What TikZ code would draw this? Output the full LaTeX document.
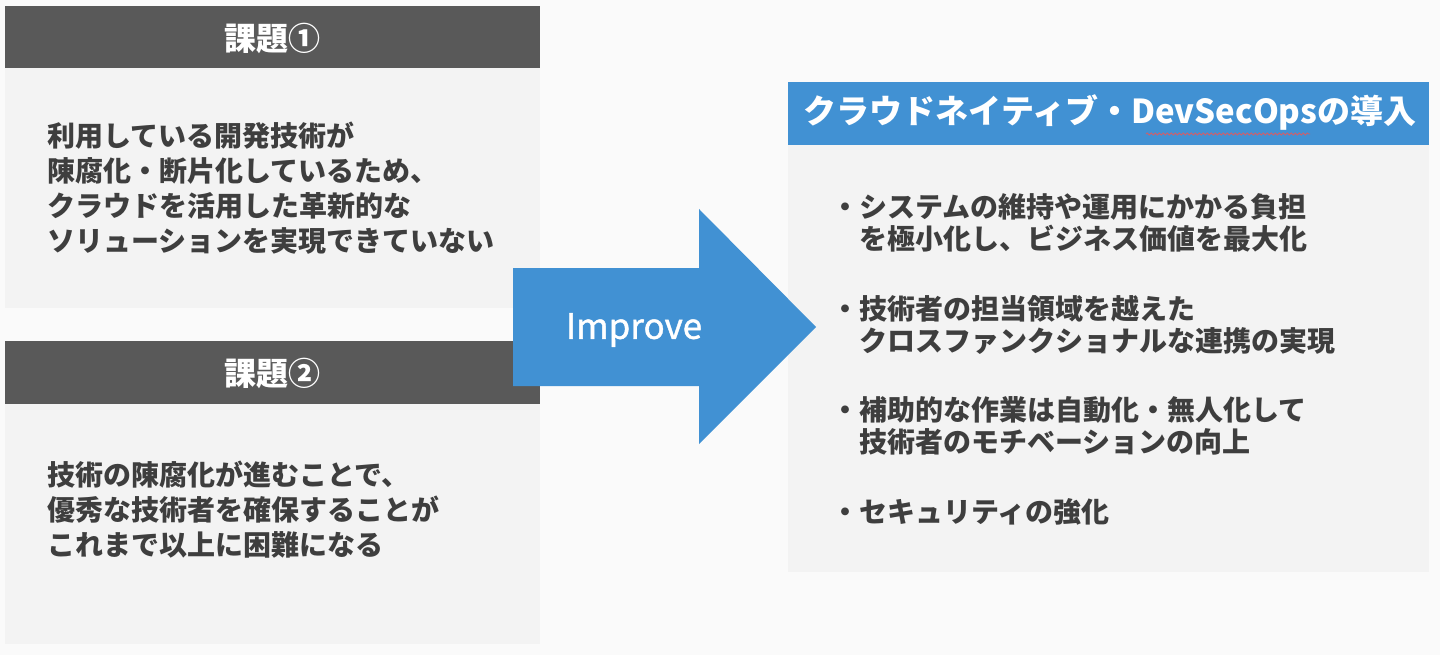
\documentclass[tikz,border=0pt]{standalone}
\usepackage{fontspec}
\setmainfont{Noto Sans CJK JP}
\newfontfamily\impfont[FakeBold=1.2]{Noto Sans CJK JP}
\usetikzlibrary{decorations.pathmorphing}
\definecolor{bg}{HTML}{FAFAFA}
\definecolor{panel}{HTML}{F3F3F3}
\definecolor{hdr}{HTML}{595959}
\definecolor{blueA}{HTML}{4191D3}
\definecolor{txt}{HTML}{3E3E3E}
\definecolor{wavy}{HTML}{D0606A}
\tikzset{
  hdrtext/.style={text=white, font=\fontsize{32}{36}\selectfont\bfseries, inner sep=0pt},
  bodytext/.style={text=txt, font=\fontsize{28}{35}\selectfont\bfseries, align=left, anchor=west, inner sep=0pt},
  bullettext/.style={text=txt, font=\fontsize{28}{32.5}\selectfont\bfseries, align=left, anchor=west, inner sep=0pt},
}
\begin{document}
\begin{tikzpicture}[x=1pt,y=-1pt]
\useasboundingbox (0,0) rectangle (1440,655);
\fill[bg] (0,0) rectangle (1440,655);
% left box 1
\fill[panel] (5,68) rectangle (540,308);
\fill[hdr] (5,6) rectangle (540,68);
\node[hdrtext] (h1) at (272,38) {課題①};
\node[bodytext] (t1) at (47,188) {利用している開発技術が\\陳腐化・断片化しているため、\\クラウドを活用した革新的な\\ソリューションを実現できていない};
% left box 2
\fill[panel] (5,404) rectangle (540,644);
\fill[hdr] (5,341) rectangle (540,404);
\node[hdrtext] (h2) at (272,373) {課題②};
\node[bodytext] (t2) at (47,510) {技術の陳腐化が進むことで、\\優秀な技術者を確保することが\\これまで以上に困難になる};
% right box
\fill[panel] (788,145) rectangle (1429,572);
\fill[blueA] (788,82) rectangle (1429,145);
\node[hdrtext, font=\fontsize{33}{36}\selectfont\bfseries] (h3) at (1110,112) {クラウドネイティブ・DevSecOpsの導入};
\draw[wavy, line width=0.8pt, decorate, decoration={snake, amplitude=1pt, segment length=4pt}] (1146,134) -- (1310,134);
\node[bullettext] (b1) at (831,223) {・システムの維持や運用にかかる負担\\　を極小化し、ビジネス価値を最大化};
\node[bullettext] (b2) at (831,325) {・技術者の担当領域を越えた\\　クロスファンクショナルな連携の実現};
\node[bullettext] (b3) at (831,426) {・補助的な作業は自動化・無人化して\\　技術者のモチベーションの向上};
\node[bullettext] (b4) at (831,512) {・セキュリティの強化};
% arrow
\fill[blueA] (513,268) -- (699,268) -- (699,209) -- (816,327) -- (699,444) -- (699,386) -- (513,386) -- cycle;
\node[text=white, font=\fontsize{35}{38}\selectfont\impfont, inner sep=0pt] (imp) at (634,330) {Improve};
\end{tikzpicture}
\end{document}
